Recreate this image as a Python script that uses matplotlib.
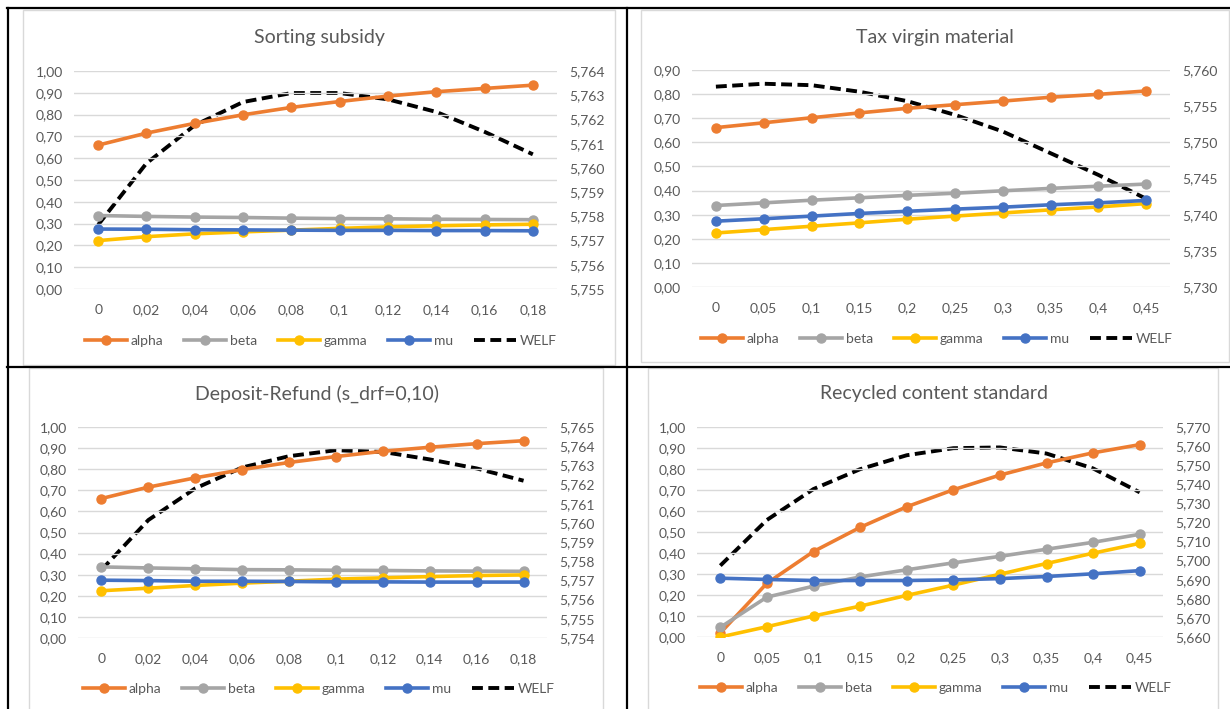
import matplotlib
matplotlib.use("Agg")
import numpy as np
from matplotlib import pyplot as plt
from matplotlib.patches import Rectangle
from matplotlib.lines import Line2D

plt.rcParams['font.family'] = ['Lato', 'DejaVu Sans']

# ---- data ----
# Sorting subsidy
sort_x = ['0', '0,02', '0,04', '0,06', '0,08', '0,1', '0,12', '0,14', '0,16', '0,18']
sort_alpha = [0.660, 0.715, 0.760, 0.799, 0.833, 0.860, 0.885, 0.905, 0.920, 0.935]
sort_beta = [0.337, 0.333, 0.330, 0.328, 0.325, 0.323, 0.322, 0.320, 0.319, 0.318]
sort_gamma = [0.222, 0.240, 0.253, 0.262, 0.270, 0.278, 0.285, 0.290, 0.294, 0.297]
sort_mu = [0.275, 0.274, 0.272, 0.271, 0.270, 0.269, 0.269, 0.268, 0.268, 0.267]
sort_welf = [5.75765, 5.76019, 5.76176, 5.76272, 5.76309, 5.76309, 5.76283, 5.76231, 5.76149, 5.76056]

# Tax virgin material
tax_x = ['0', '0,05', '0,1', '0,15', '0,2', '0,25', '0,3', '0,35', '0,4', '0,45']
tax_alpha = [0.661, 0.681, 0.702, 0.722, 0.741, 0.756, 0.771, 0.787, 0.799, 0.813]
tax_beta = [0.338, 0.349, 0.360, 0.370, 0.380, 0.389, 0.399, 0.409, 0.418, 0.427]
tax_gamma = [0.224, 0.238, 0.252, 0.266, 0.281, 0.294, 0.307, 0.320, 0.332, 0.346]
tax_mu = [0.273, 0.283, 0.294, 0.305, 0.314, 0.323, 0.331, 0.341, 0.349, 0.359]
tax_welf = [5.7577, 5.7581, 5.7579, 5.7570, 5.7557, 5.7538, 5.7515, 5.7485, 5.7455, 5.7422]

# Deposit-Refund
dep_x = ['0', '0,02', '0,04', '0,06', '0,08', '0,1', '0,12', '0,14', '0,16', '0,18']
dep_alpha = [0.661, 0.715, 0.759, 0.798, 0.832, 0.860, 0.885, 0.904, 0.921, 0.935]
dep_beta = [0.337, 0.332, 0.328, 0.324, 0.323, 0.321, 0.320, 0.318, 0.317, 0.316]
dep_gamma = [0.224, 0.236, 0.249, 0.260, 0.269, 0.279, 0.285, 0.291, 0.296, 0.299]
dep_mu = [0.274, 0.272, 0.269, 0.269, 0.268, 0.266, 0.266, 0.265, 0.265, 0.265]
dep_welf = [5.75755, 5.76015, 5.76180, 5.76289, 5.76348, 5.76379, 5.76370, 5.76331, 5.76284, 5.76220]

# Recycled content standard
rec_x = ['0', '0,05', '0,1', '0,15', '0,2', '0,25', '0,3', '0,35', '0,4', '0,45']
rec_alpha = [0.019, 0.256, 0.407, 0.522, 0.620, 0.701, 0.771, 0.829, 0.877, 0.916]
rec_beta = [0.046, 0.190, 0.242, 0.286, 0.320, 0.353, 0.384, 0.418, 0.451, 0.489]
rec_gamma = [0.000, 0.049, 0.100, 0.147, 0.198, 0.247, 0.299, 0.350, 0.399, 0.446]
rec_mu = [0.280, 0.274, 0.269, 0.269, 0.269, 0.272, 0.278, 0.288, 0.301, 0.316]
rec_welf = [5.6974, 5.7213, 5.7375, 5.7479, 5.7552, 5.7589, 5.7593, 5.7561, 5.7483, 5.7358]

names = ['alpha', 'beta', 'gamma', 'mu']
colors = ['#ED7D31', '#A5A5A5', '#FFC000', '#4472C4']
txt = '#595959'
grid = '#D9D9D9'

W, H = 1230, 709
fig = plt.figure(figsize=(W / 100, H / 100), dpi=100)


def px_rect(x0, y0, x1, y1):
    # pixel box (top-down) -> figure fraction rect
    return [x0 / W, 1 - y1 / H, (x1 - x0) / W, (y1 - y0) / H]


def panel(box, plot, title, title_xy, leg_xy, xl, series, welf, lticks, rticks):
    bx0, by0, bx1, by1 = box
    fig.patches.append(Rectangle((bx0 / W, 1 - by1 / H), (bx1 - bx0) / W, (by1 - by0) / H,
                                 transform=fig.transFigure, fill=False, ec=grid, lw=1))
    ax = fig.add_axes(px_rect(*plot))
    ax2 = ax.twinx()
    x = np.arange(len(xl))
    for vals, c, n in zip(series, colors, names):
        ax.plot(x, vals, color=c, lw=2.6, marker='o', ms=6.5, label=n, zorder=3)
    ax2.plot(x, welf, color='black', lw=2.8, dashes=(2.8, 1.4), label='WELF')

    ax.set_xlim(-0.5, len(xl) - 0.5)
    ax.set_ylim(lticks[0], lticks[-1])
    ax.set_yticks(lticks)
    ax.set_yticklabels([f"{v:.2f}".replace('.', ',') for v in lticks])
    ax2.set_ylim(rticks[0], rticks[-1])
    ax2.set_yticks(rticks)
    ax2.set_yticklabels([f"{v:.3f}".replace('.', ',') for v in rticks])
    ax.set_xticks(x)
    ax.set_xticklabels(xl)
    ax.grid(axis='y', color=grid, lw=1)
    ax.set_axisbelow(True)
    for a in (ax, ax2):
        for s in a.spines.values():
            s.set_visible(False)
        a.tick_params(length=0, labelsize=10, labelcolor=txt)
    ax.tick_params(axis='y', pad=8)
    ax.tick_params(axis='x', pad=11)
    ax2.tick_params(axis='y', pad=9)
    ax.set_zorder(ax2.get_zorder() + 1)
    ax.patch.set_visible(False)

    fig.text(title_xy[0] / W, 1 - title_xy[1] / H, title, ha='center', va='center',
             fontsize=14, color=txt)
    handles = [Line2D([], [], color=c, lw=2.6, marker='o', ms=6.5) for c in colors]
    handles.append(Line2D([], [], color='black', lw=2.8, dashes=(2.8, 1.4)))
    fig.legend(handles, names + ['WELF'], loc='center', ncol=5, frameon=False,
               bbox_to_anchor=(leg_xy[0] / W, 1 - leg_xy[1] / H),
               fontsize=10, labelcolor=txt, handlelength=3.0, handletextpad=0.3,
               columnspacing=1.5)


panel((23, 10, 615, 365), (74, 71, 557, 289), 'Sorting subsidy', (319, 38), (321, 341),
      sort_x, [sort_alpha, sort_beta, sort_gamma, sort_mu], sort_welf,
      np.arange(0, 1.001, 0.1), np.arange(5.755, 5.7641, 0.001))
panel((641, 10, 1229, 362), (692, 70, 1170, 287), 'Tax virgin material', (935, 37), (937, 339),
      tax_x, [tax_alpha, tax_beta, tax_gamma, tax_mu], tax_welf,
      np.arange(0, 0.901, 0.1), np.arange(5.730, 5.7601, 0.005))
panel((29, 368, 603, 712), (78, 427, 547, 638), 'Deposit-Refund (s_drf=0,10)', (317, 394), (319, 689),
      dep_x, [dep_alpha, dep_beta, dep_gamma, dep_mu], dep_welf,
      np.arange(0, 1.001, 0.1), np.arange(5.754, 5.7651, 0.001))
panel((648, 368, 1218, 712), (697, 427, 1163, 637), 'Recycled content standard', (934, 394), (936, 688),
      rec_x, [rec_alpha, rec_beta, rec_gamma, rec_mu], rec_welf,
      np.arange(0, 1.001, 0.1), np.arange(5.660, 5.7701, 0.010))

# black frame lines of the screenshot
for (x0, y0, x1, y1) in [(7, 8, 1230, 8), (8, 8, 8, 709), (627, 8, 627, 709), (7, 367, 1230, 367)]:
    fig.add_artist(Line2D([x0 / W, x1 / W], [1 - y0 / H, 1 - y1 / H], color='black', lw=1.6,
                          transform=fig.transFigure))

fig.savefig('out.png', dpi=100)
